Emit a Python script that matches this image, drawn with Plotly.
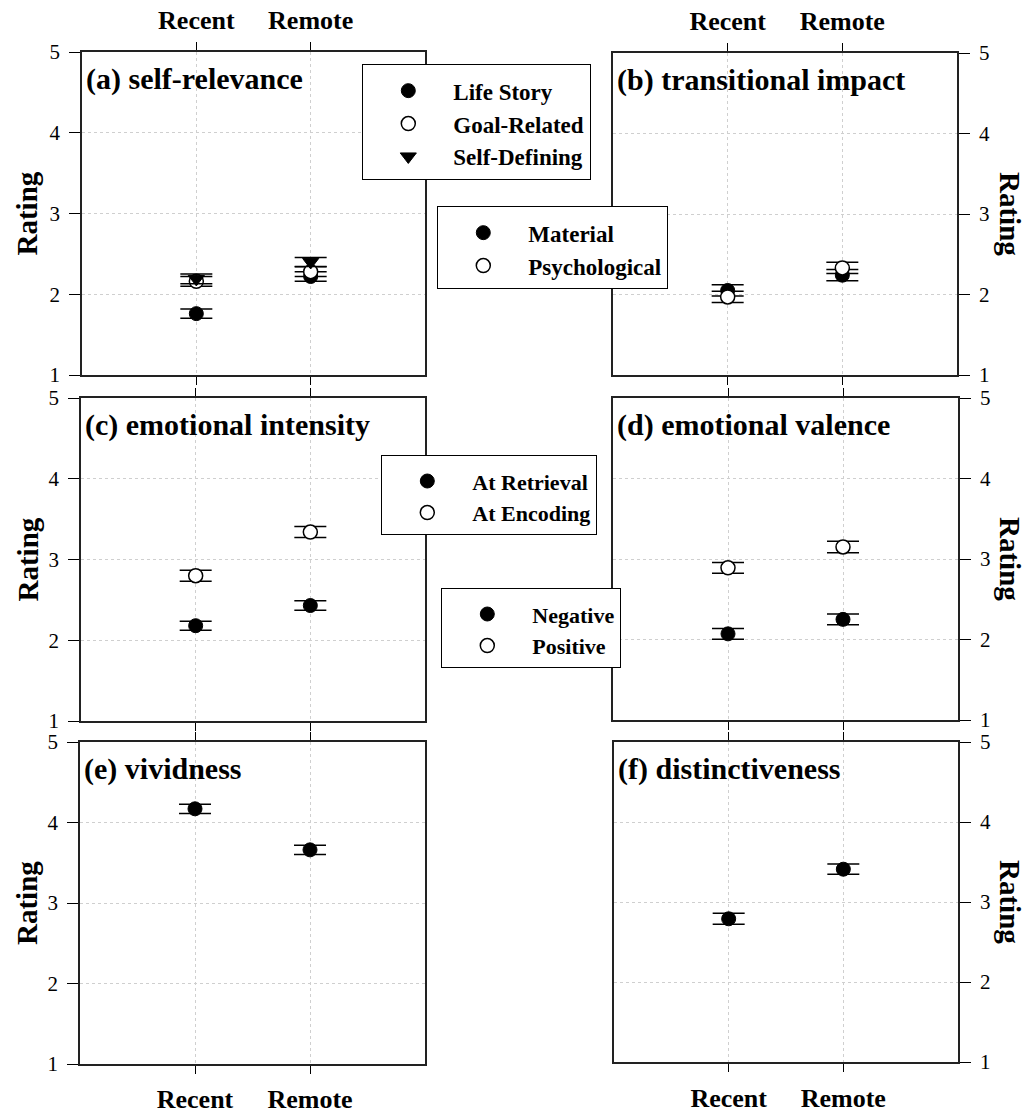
import plotly.graph_objects as go

FONT = "Liberation Serif, Times New Roman, serif"
W, H = 1029, 1114

# ---------------- data ----------------
periods = ["Recent", "Remote"]
x_pos = [1, 2]
y_ticks = [1, 2, 3, 4, 5]

# (a) self-relevance
a_life_story = [1.76, 2.22]
a_life_story_se = [0.056, 0.06]
a_goal_related = [2.16, 2.28]
a_goal_related_se = [0.06, 0.06]
a_self_defining = [2.19, 2.40]
a_self_defining_se = [0.06, 0.055]

# (b) transitional impact
b_material = [2.05, 2.24]
b_material_se = [0.07, 0.07]
b_psychological = [1.97, 2.33]
b_psychological_se = [0.07, 0.07]

# (c) emotional intensity
c_retrieval = [2.18, 2.43]
c_retrieval_se = [0.055, 0.06]
c_encoding = [2.80, 3.34]
c_encoding_se = [0.068, 0.068]

# (d) emotional valence
d_negative = [2.07, 2.25]
d_negative_se = [0.068, 0.068]
d_positive = [2.89, 3.15]
d_positive_se = [0.068, 0.072]

# (e) vividness
e_vividness = [4.17, 3.66]
e_vividness_se = [0.058, 0.058]

# (f) distinctiveness
f_distinctiveness = [2.79, 3.41]
f_distinctiveness_se = [0.068, 0.064]

# ---------------- layout geometry (px) ----------------
panels = [
    # key, title, left, right, top, bottom, side
    (1, "(a) self-relevance", 82, 425, 52, 375, "left"),
    (2, "(b) transitional impact", 613, 957, 53, 375, "right"),
    (3, "(c) emotional intensity", 81, 425, 398, 721, "left"),
    (4, "(d) emotional valence", 613, 958, 398, 720, "right"),
    (5, "(e) vividness", 80, 425, 742, 1064, "left"),
    (6, "(f) distinctiveness", 614, 958, 742, 1062, "right"),
]

FILLED = dict(symbol="circle", size=14, color="black", line=dict(color="black", width=1))
OPEN = dict(symbol="circle", size=14, color="white", line=dict(color="black", width=1.5))
TRI = dict(symbol="triangle-down", size=14, color="black", line=dict(color="black", width=1))

series = [
    # panel, name, values, se, marker, legend
    (1, "Life Story", a_life_story, a_life_story_se, FILLED, "legend"),
    (1, "Goal-Related", a_goal_related, a_goal_related_se, OPEN, "legend"),
    (1, "Self-Defining", a_self_defining, a_self_defining_se, TRI, "legend"),
    (2, "Material", b_material, b_material_se, FILLED, "legend2"),
    (2, "Psychological", b_psychological, b_psychological_se, OPEN, "legend2"),
    (3, "At Retrieval", c_retrieval, c_retrieval_se, FILLED, "legend3"),
    (3, "At Encoding", c_encoding, c_encoding_se, OPEN, "legend3"),
    (4, "Negative", d_negative, d_negative_se, FILLED, "legend4"),
    (4, "Positive", d_positive, d_positive_se, OPEN, "legend4"),
    (5, "Vividness", e_vividness, e_vividness_se, FILLED, None),
    (6, "Distinctiveness", f_distinctiveness, f_distinctiveness_se, FILLED, None),
]

fig = go.Figure()
for p, name, vals, se, mk, lg in series:
    kw = dict(showlegend=lg is not None)
    if lg is not None:
        kw["legend"] = lg
    fig.add_trace(go.Scatter(
        x=x_pos, y=vals, name=name, mode="markers",
        marker=mk,
        error_y=dict(type="data", array=se, visible=True, color="black",
                     thickness=1.5, width=16),
        xaxis="x" if p == 1 else f"x{p}",
        yaxis="y" if p == 1 else f"y{p}",
        **kw,
    ))

layout = dict(
    width=W, height=H,
    margin=dict(l=0, r=0, t=0, b=0, autoexpand=False),
    paper_bgcolor="white", plot_bgcolor="white",
    font=dict(family=FONT, color="black"),
    annotations=[],
)

for p, title, left, right, top, bottom, side in panels:
    xk = "xaxis" if p == 1 else f"xaxis{p}"
    yk = "yaxis" if p == 1 else f"yaxis{p}"
    yref = "y" if p == 1 else f"y{p}"
    xref = "x" if p == 1 else f"x{p}"
    xdom = [left / W, right / W]
    ydom = [1 - bottom / H, 1 - top / H]
    show_xlab = p in (1, 2, 5, 6)
    xside = "top" if p in (1, 2) else "bottom"
    layout[xk] = dict(
        domain=xdom, anchor=yref, range=[0, 3], fixedrange=True, automargin=False,
        tickmode="array", tickvals=x_pos, ticktext=periods,
        showticklabels=show_xlab, side=xside,
        ticks="outside", ticklen=8, tickwidth=1.3, tickcolor="black",
        ticklabelstandoff=3 if xside == "top" else (3 if p == 5 else 4),
        tickfont=dict(family=FONT, size=26, color="black", weight="bold"),
        showline=True, linecolor="#222222", linewidth=1.5, mirror="ticks",
        showgrid=True, gridcolor="#cfcfcf", griddash="dot", gridwidth=1,
        zeroline=False,
    )
    # overlay axis giving the inner half of the crossing ticks
    ok = f"xaxis{p + 6}"
    layout[ok] = dict(
        overlaying=xref, anchor=yref, range=[0, 3], fixedrange=True, automargin=False,
        tickmode="array", tickvals=x_pos, showticklabels=False, side="bottom",
        ticks="inside", ticklen=8, tickwidth=1.3, tickcolor="black",
        showline=True, linecolor="#222222", linewidth=1.5, mirror="ticks",
        showgrid=False, zeroline=False,
    )
    layout[yk] = dict(
        domain=ydom, anchor=xref, range=[1, 5], fixedrange=True, automargin=False,
        tickmode="array", tickvals=y_ticks, side=side,
        ticks="outside", ticklen=11, tickwidth=1.3, tickcolor="black",
        ticklabelstandoff=5,
        tickfont=dict(family=FONT, size=21, color="black"),
        showline=True, linecolor="#222222", linewidth=1.5, mirror=True,
        showgrid=True, gridcolor="#cfcfcf", griddash="dot", gridwidth=1,
        zeroline=False,
    )
    # panel title
    layout["annotations"].append(dict(
        text=f"<b>{title}</b>", xref="paper", yref="paper",
        x=(left + 2) / W, y=1 - (top + 27) / H, xanchor="left", yanchor="middle",
        showarrow=False, font=dict(family=FONT, size=30, color="black"),
    ))
    # y axis title
    cy = (top + bottom) / 2
    if side == "left":
        layout["annotations"].append(dict(
            text="<b>Rating</b>", xref="paper", yref="paper",
            x=27 / W, y=1 - cy / H, xanchor="center", yanchor="middle",
            textangle=-90, showarrow=False,
            font=dict(family=FONT, size=29, color="black"),
        ))
    else:
        layout["annotations"].append(dict(
            text="<b>Rating</b>", xref="paper", yref="paper",
            x=1010 / W, y=1 - cy / H, xanchor="center", yanchor="middle",
            textangle=90, showarrow=False,
            font=dict(family=FONT, size=29, color="black"),
        ))

legend_boxes = {
    # key: (left px, top px, font size)
    "legend": (362, 64, 23),
    "legend2": (437, 206, 23),
    "legend3": (381, 455, 22),
    "legend4": (441, 588, 22),
}
for key, (lx, ly, fs) in legend_boxes.items():
    layout[key] = dict(
        x=lx / W, y=1 - ly / H, xref="paper", yref="paper",
        xanchor="left", yanchor="top",
        bgcolor="white", bordercolor="black", borderwidth=1.3,
        itemwidth=80, itemclick=False, itemdoubleclick=False,
        font=dict(family=FONT, size=fs, color="black", weight="bold"),
        title=dict(text=" ", font=dict(size=3)),
    )

fig.update_layout(**layout)
fig.write_html(
    "out.html",
    config={"displayModeBar": False},
    post_script="document.body.style.margin='0';document.body.style.overflow='hidden';",
)
